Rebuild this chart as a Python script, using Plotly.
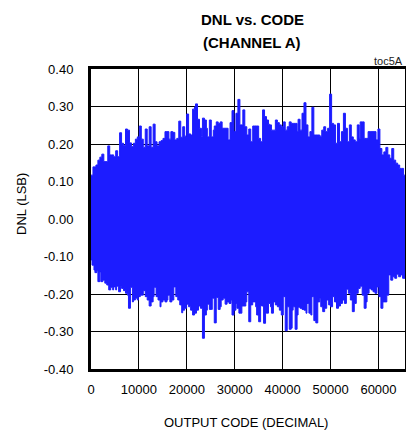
import plotly.graph_objects as go

# ---- data (upper and lower envelope of DNL vs code) ----
upper_code = [0, 410, 1030, 1440, 1850, 2260, 2680, 3500, 3910, 4320, 4730, 5150, 5560, 5970, 6380, 6790,
              7200, 7610, 8030, 8440, 8850, 9260, 9670, 10080, 10500, 10910, 11320, 11730, 12140, 12550,
              12970, 13380, 13790, 14200, 14610, 15020, 15440, 15850, 16260, 16670, 17080, 17490, 17900,
              18320, 18730, 19140, 19550, 19960, 20370, 20790, 21200, 21610, 21810, 22230, 22640, 23050,
              23260, 23670, 24080, 24280, 24700, 25110, 25520, 25730, 26140, 26550, 26960, 27370, 27780,
              28190, 28610, 29020, 29430, 29840, 30250, 30660, 31080, 31280, 31690, 32100, 32520, 32930,
              33340, 33750, 34160, 34570, 34990, 35400, 35810, 36220, 36630, 37040, 37250, 37660, 38070,
              38480, 38900, 39310, 39720, 40130, 40540, 40950, 41370, 41780, 42190, 42600, 43010, 43220,
              43630, 44040, 44450, 44870, 45280, 45690, 46100, 46510, 46920, 47330, 47750, 48160, 48570,
              48980, 49390, 49800, 50220, 50630, 51040, 51450, 51860, 52270, 52680, 53100, 53510, 53920,
              54330, 54740, 55150, 55570, 55980, 56180, 56600, 57010, 57420, 57830, 58240, 58650, 59070,
              59480, 59890, 60300, 60710, 61120, 61540, 61950, 62360, 62770, 63180, 63590, 64000, 64420,
              64830, 65240, 65535]
upper_dnl = [0.117, 0.139, 0.144, 0.157, 0.165, 0.173, 0.153, 0.195, 0.171, 0.171, 0.166, 0.182, 0.166,
             0.230, 0.202, 0.197, 0.240, 0.237, 0.203, 0.193, 0.202, 0.213, 0.219, 0.248, 0.213, 0.191,
             0.240, 0.195, 0.246, 0.191, 0.253, 0.206, 0.195, 0.206, 0.209, 0.215, 0.233, 0.233, 0.213,
             0.233, 0.231, 0.211, 0.215, 0.261, 0.218, 0.246, 0.221, 0.280, 0.227, 0.224, 0.293, 0.299,
             0.307, 0.266, 0.242, 0.221, 0.269, 0.264, 0.242, 0.219, 0.264, 0.219, 0.237, 0.248, 0.259,
             0.255, 0.259, 0.242, 0.242, 0.242, 0.211, 0.257, 0.289, 0.233, 0.282, 0.319, 0.251, 0.251,
             0.291, 0.246, 0.224, 0.240, 0.206, 0.248, 0.248, 0.248, 0.215, 0.206, 0.291, 0.273, 0.264,
             0.253, 0.251, 0.237, 0.237, 0.264, 0.257, 0.251, 0.246, 0.259, 0.237, 0.246, 0.259, 0.255,
             0.255, 0.255, 0.233, 0.266, 0.237, 0.282, 0.310, 0.251, 0.219, 0.233, 0.298, 0.224, 0.224,
             0.224, 0.221, 0.237, 0.246, 0.233, 0.242, 0.333, 0.255, 0.251, 0.202, 0.255, 0.206, 0.233,
             0.282, 0.242, 0.206, 0.251, 0.219, 0.211, 0.206, 0.251, 0.215, 0.259, 0.259, 0.215, 0.215,
             0.233, 0.233, 0.233, 0.233, 0.211, 0.240, 0.188, 0.171, 0.179, 0.191, 0.171, 0.162, 0.188,
             0.157, 0.149, 0.144, 0.135, 0.135, 0.117, 0.117]

lower_code = [0, 210, 620, 820, 1230, 1440, 1850, 2060, 2470, 2880, 3290, 3700, 4120, 4530, 4730, 5150,
              5350, 5760, 6170, 6380, 6790, 7200, 7610, 7820, 8230, 8640, 8850, 9260, 9670, 9880, 10290,
              10700, 10910, 11320, 11730, 12140, 12550, 12970, 13170, 13580, 13990, 14410, 14610, 15020,
              15440, 15850, 16050, 16460, 16880, 17290, 17700, 18110, 18520, 18930, 19140, 19550, 19960,
              20370, 20790, 21200, 21610, 22020, 22430, 22840, 23260, 23670, 24080, 24280, 24700, 25110,
              25310, 25730, 26140, 26550, 26960, 27170, 27580, 27990, 28400, 28810, 29220, 29430, 29840,
              30250, 30460, 30870, 31280, 31490, 31900, 32310, 32520, 32930, 33340, 33750, 33960, 34370,
              34570, 34990, 35400, 35600, 36020, 36430, 36630, 37040, 37460, 37660, 38070, 38480, 38900,
              39310, 39720, 40130, 40540, 40950, 41370, 41780, 41980, 42190, 42600, 43010, 43220, 43630,
              44040, 44450, 44870, 45070, 45480, 45890, 46100, 46510, 46920, 47330, 47750, 47950, 48360,
              48770, 49190, 49600, 50010, 50420, 50830, 51240, 51660, 52070, 52480, 52890, 53300, 53710,
              54130, 54540, 54950, 55360, 55770, 56180, 56600, 57010, 57420, 57620, 58040, 58450, 58860,
              59270, 59680, 60090, 60510, 60920, 61330, 61740, 62150, 62560, 62980, 63390, 63800, 64210,
              64620, 65030, 65535]
lower_dnl = [-0.109, -0.123, -0.136, -0.143, -0.138, -0.167, -0.141, -0.167, -0.163, -0.171, -0.176,
             -0.189, -0.182, -0.189, -0.181, -0.189, -0.179, -0.194, -0.179, -0.185, -0.191, -0.198,
             -0.203, -0.238, -0.182, -0.221, -0.216, -0.211, -0.216, -0.207, -0.203, -0.203, -0.191,
             -0.207, -0.216, -0.232, -0.221, -0.207, -0.182, -0.207, -0.216, -0.234, -0.221, -0.216,
             -0.221, -0.216, -0.203, -0.221, -0.216, -0.181, -0.207, -0.216, -0.229, -0.250, -0.243,
             -0.238, -0.227, -0.234, -0.243, -0.256, -0.251, -0.243, -0.232, -0.238, -0.318, -0.256,
             -0.243, -0.227, -0.241, -0.241, -0.211, -0.277, -0.209, -0.241, -0.234, -0.216, -0.211,
             -0.227, -0.221, -0.225, -0.216, -0.256, -0.243, -0.225, -0.238, -0.251, -0.251, -0.232,
             -0.232, -0.221, -0.194, -0.274, -0.229, -0.221, -0.221, -0.234, -0.256, -0.274, -0.229,
             -0.232, -0.278, -0.251, -0.251, -0.225, -0.234, -0.251, -0.221, -0.229, -0.234, -0.243,
             -0.256, -0.207, -0.298, -0.234, -0.294, -0.291, -0.243, -0.234, -0.294, -0.256, -0.235,
             -0.238, -0.241, -0.243, -0.251, -0.225, -0.251, -0.256, -0.207, -0.271, -0.277, -0.221,
             -0.211, -0.234, -0.247, -0.238, -0.216, -0.229, -0.234, -0.207, -0.221, -0.238, -0.232,
             -0.225, -0.216, -0.225, -0.187, -0.198, -0.216, -0.247, -0.225, -0.198, -0.185, -0.179,
             -0.203, -0.238, -0.221, -0.198, -0.185, -0.189, -0.194, -0.198, -0.181, -0.207, -0.238,
             -0.221, -0.221, -0.203, -0.149, -0.163, -0.154, -0.158, -0.147, -0.154, -0.149, -0.158,
             -0.114]

x_ticks = [0, 10000, 20000, 30000, 40000, 50000, 60000]
y_ticks = [-0.4, -0.3, -0.2, -0.1, 0.0, 0.1, 0.2, 0.3, 0.4]
y_tick_text = ["-0.40", "-0.30", "-0.20", "-0.10", "0.00", "0.10", "0.20", "0.30", "0.40"]

BLUE = "#1c1cff"
FONT = "Liberation Sans, Arial, sans-serif"

fig = go.Figure()
fig.add_trace(go.Scatter(x=lower_code, y=lower_dnl, mode="lines", line=dict(color=BLUE, width=1, shape="hv"),
                         hoverinfo="skip", showlegend=False))
fig.add_trace(go.Scatter(x=upper_code, y=upper_dnl, mode="lines", line=dict(color=BLUE, width=1, shape="hv"),
                         fill="tonexty", fillcolor=BLUE, hoverinfo="skip", showlegend=False))

# the page body adds an 8px margin, so the figure is 8px smaller and margins are shifted
fig.update_layout(
    width=406, height=423,
    margin=dict(l=83, r=6, t=61, b=62, pad=0),
    paper_bgcolor="white", plot_bgcolor="white",
    font=dict(family=FONT, size=13, color="#000"),
    xaxis=dict(range=[0, 65535], tickvals=x_ticks, ticktext=[str(v) for v in x_ticks],
               showgrid=True, gridcolor="#000", gridwidth=1, zeroline=False,
               showline=True, linecolor="#000", linewidth=3, mirror=True,
               ticks="outside", ticklen=6, tickcolor="rgba(0,0,0,0)",
               tickfont=dict(family=FONT, size=13, color="#000"), fixedrange=True),
    yaxis=dict(range=[-0.4, 0.4], tickvals=y_ticks, ticktext=y_tick_text,
               showgrid=True, gridcolor="#000", gridwidth=1, zeroline=False,
               showline=True, linecolor="#000", linewidth=3, mirror=True,
               ticks="outside", ticklen=12, tickcolor="rgba(0,0,0,0)",
               tickfont=dict(family=FONT, size=13, color="#000"), fixedrange=True),
    annotations=[
        dict(text="<b>DNL vs. CODE</b>", xref="paper", yref="paper", x=0.5, y=1, xanchor="center",
             yanchor="middle", xshift=4, yshift=50, showarrow=False, font=dict(family=FONT, size=15, color="#000")),
        dict(text="<b>(CHANNEL A)</b>", xref="paper", yref="paper", x=0.5, y=1, xanchor="center",
             yanchor="middle", xshift=4, yshift=27, showarrow=False, font=dict(family=FONT, size=15, color="#000")),
        dict(text="toc5A", xref="paper", yref="paper", x=1, y=1, xanchor="right", yanchor="middle",
             yshift=8, showarrow=False, font=dict(family=FONT, size=11, color="#222")),
        dict(text="DNL (LSB)", xref="paper", yref="paper", x=0, y=0.55, xanchor="center", yanchor="middle",
             xshift=-70, textangle=-90, showarrow=False, font=dict(family=FONT, size=13, color="#000")),
        dict(text="OUTPUT CODE (DECIMAL)", xref="paper", yref="paper", x=0.5, y=0, xanchor="center",
             yanchor="middle", xshift=-2, yshift=-53, showarrow=False, font=dict(family=FONT, size=13, color="#000")),
    ],
)

fig.write_html("out.html")
